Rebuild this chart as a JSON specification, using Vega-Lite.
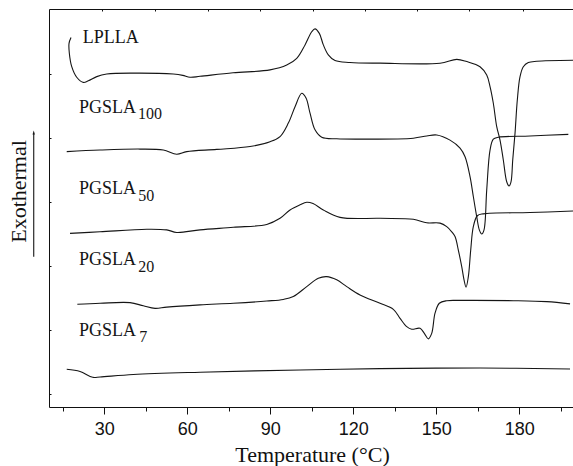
{
  "$schema": "https://vega.github.io/schema/vega-lite/v6.json",
  "width": 525,
  "height": 398,
  "autosize": {"type": "none"},
  "padding": {"left": 49, "top": 9, "right": 0, "bottom": 59},
  "background": "white",
  "config": {
    "view": {"stroke": "#111", "strokeWidth": 1},
    "axis": {"domain": false, "grid": false, "tickColor": "#111", "labelColor": "#111", "titleColor": "#111"}
  },
  "datasets": {
    "curves": [
      {"series": "LPLLA", "temp": 17.96, "signal": 12.13},
      {"series": "LPLLA", "temp": 17.24, "signal": 11.95},
      {"series": "LPLLA", "temp": 17.35, "signal": 11.64},
      {"series": "LPLLA", "temp": 18.22, "signal": 11.22},
      {"series": "LPLLA", "temp": 20.02, "signal": 10.89},
      {"series": "LPLLA", "temp": 22.41, "signal": 10.73},
      {"series": "LPLLA", "temp": 24.22, "signal": 10.78},
      {"series": "LPLLA", "temp": 27.25, "signal": 10.91},
      {"series": "LPLLA", "temp": 30.87, "signal": 10.99},
      {"series": "LPLLA", "temp": 40.48, "signal": 11.02},
      {"series": "LPLLA", "temp": 54.94, "signal": 10.99},
      {"series": "LPLLA", "temp": 58.34, "signal": 10.95},
      {"series": "LPLLA", "temp": 60.98, "signal": 10.89},
      {"series": "LPLLA", "temp": 64.59, "signal": 10.92},
      {"series": "LPLLA", "temp": 76.52, "signal": 11.03},
      {"series": "LPLLA", "temp": 89.89, "signal": 11.12},
      {"series": "LPLLA", "temp": 95.93, "signal": 11.27},
      {"series": "LPLLA", "temp": 99.54, "signal": 11.48},
      {"series": "LPLLA", "temp": 102.54, "signal": 11.9},
      {"series": "LPLLA", "temp": 104.96, "signal": 12.31},
      {"series": "LPLLA", "temp": 106.15, "signal": 12.4},
      {"series": "LPLLA", "temp": 107.71, "signal": 12.26},
      {"series": "LPLLA", "temp": 109.16, "signal": 11.9},
      {"series": "LPLLA", "temp": 110.96, "signal": 11.59},
      {"series": "LPLLA", "temp": 113.38, "signal": 11.41},
      {"series": "LPLLA", "temp": 118.8, "signal": 11.35},
      {"series": "LPLLA", "temp": 129.65, "signal": 11.33},
      {"series": "LPLLA", "temp": 151.34, "signal": 11.33},
      {"series": "LPLLA", "temp": 157.37, "signal": 11.45},
      {"series": "LPLLA", "temp": 160.99, "signal": 11.38},
      {"series": "LPLLA", "temp": 165.79, "signal": 11.22},
      {"series": "LPLLA", "temp": 168.21, "signal": 10.96},
      {"series": "LPLLA", "temp": 169.41, "signal": 10.6},
      {"series": "LPLLA", "temp": 170.6, "signal": 10.08},
      {"series": "LPLLA", "temp": 171.83, "signal": 9.35},
      {"series": "LPLLA", "temp": 173.02, "signal": 8.93},
      {"series": "LPLLA", "temp": 174.21, "signal": 8.31},
      {"series": "LPLLA", "temp": 175.44, "signal": 7.63},
      {"series": "LPLLA", "temp": 176.27, "signal": 7.5},
      {"series": "LPLLA", "temp": 176.99, "signal": 7.63},
      {"series": "LPLLA", "temp": 177.61, "signal": 8.31},
      {"series": "LPLLA", "temp": 178.44, "signal": 9.14},
      {"series": "LPLLA", "temp": 179.27, "signal": 10.18},
      {"series": "LPLLA", "temp": 180.25, "signal": 10.91},
      {"series": "LPLLA", "temp": 181.44, "signal": 11.22},
      {"series": "LPLLA", "temp": 183.25, "signal": 11.35},
      {"series": "LPLLA", "temp": 186.29, "signal": 11.39},
      {"series": "LPLLA", "temp": 199.76, "signal": 11.42},

      {"series": "PGSLA100", "temp": 16.41, "signal": 8.57},
      {"series": "PGSLA100", "temp": 28.45, "signal": 8.62},
      {"series": "PGSLA100", "temp": 42.9, "signal": 8.65},
      {"series": "PGSLA100", "temp": 51.32, "signal": 8.62},
      {"series": "PGSLA100", "temp": 56.17, "signal": 8.49},
      {"series": "PGSLA100", "temp": 59.78, "signal": 8.57},
      {"series": "PGSLA100", "temp": 70.63, "signal": 8.64},
      {"series": "PGSLA100", "temp": 82.66, "signal": 8.73},
      {"series": "PGSLA100", "temp": 89.89, "signal": 8.88},
      {"series": "PGSLA100", "temp": 93.51, "signal": 9.04},
      {"series": "PGSLA100", "temp": 96.51, "signal": 9.46},
      {"series": "PGSLA100", "temp": 98.93, "signal": 9.97},
      {"series": "PGSLA100", "temp": 101.35, "signal": 10.39},
      {"series": "PGSLA100", "temp": 102.9, "signal": 10.24},
      {"series": "PGSLA100", "temp": 104.35, "signal": 9.77},
      {"series": "PGSLA100", "temp": 106.15, "signal": 9.25},
      {"series": "PGSLA100", "temp": 108.58, "signal": 9.02},
      {"series": "PGSLA100", "temp": 114.0, "signal": 8.97},
      {"series": "PGSLA100", "temp": 123.61, "signal": 8.96},
      {"series": "PGSLA100", "temp": 141.69, "signal": 8.99},
      {"series": "PGSLA100", "temp": 146.53, "signal": 9.06},
      {"series": "PGSLA100", "temp": 150.14, "signal": 9.09},
      {"series": "PGSLA100", "temp": 154.95, "signal": 8.93},
      {"series": "PGSLA100", "temp": 158.57, "signal": 8.68},
      {"series": "PGSLA100", "temp": 160.38, "signal": 8.41},
      {"series": "PGSLA100", "temp": 162.18, "signal": 7.79},
      {"series": "PGSLA100", "temp": 163.37, "signal": 7.17},
      {"series": "PGSLA100", "temp": 164.6, "signal": 6.54},
      {"series": "PGSLA100", "temp": 165.54, "signal": 6.13},
      {"series": "PGSLA100", "temp": 166.41, "signal": 6.0},
      {"series": "PGSLA100", "temp": 167.24, "signal": 6.13},
      {"series": "PGSLA100", "temp": 168.21, "signal": 7.37},
      {"series": "PGSLA100", "temp": 169.41, "signal": 8.62},
      {"series": "PGSLA100", "temp": 170.6, "signal": 8.96},
      {"series": "PGSLA100", "temp": 172.41, "signal": 9.02},
      {"series": "PGSLA100", "temp": 183.86, "signal": 9.06},
      {"series": "PGSLA100", "temp": 197.71, "signal": 9.11},

      {"series": "PGSLA50", "temp": 17.6, "signal": 6.02},
      {"series": "PGSLA50", "temp": 28.45, "signal": 6.07},
      {"series": "PGSLA50", "temp": 45.33, "signal": 6.15},
      {"series": "PGSLA50", "temp": 52.55, "signal": 6.13},
      {"series": "PGSLA50", "temp": 56.17, "signal": 6.05},
      {"series": "PGSLA50", "temp": 64.59, "signal": 6.13},
      {"series": "PGSLA50", "temp": 76.63, "signal": 6.21},
      {"series": "PGSLA50", "temp": 88.7, "signal": 6.3},
      {"series": "PGSLA50", "temp": 93.51, "signal": 6.49},
      {"series": "PGSLA50", "temp": 97.12, "signal": 6.75},
      {"series": "PGSLA50", "temp": 100.73, "signal": 6.91},
      {"series": "PGSLA50", "temp": 103.15, "signal": 6.99},
      {"series": "PGSLA50", "temp": 105.43, "signal": 6.95},
      {"series": "PGSLA50", "temp": 109.16, "signal": 6.75},
      {"series": "PGSLA50", "temp": 115.19, "signal": 6.52},
      {"series": "PGSLA50", "temp": 129.65, "signal": 6.49},
      {"series": "PGSLA50", "temp": 141.69, "signal": 6.46},
      {"series": "PGSLA50", "temp": 146.53, "signal": 6.35},
      {"series": "PGSLA50", "temp": 151.34, "signal": 6.34},
      {"series": "PGSLA50", "temp": 153.76, "signal": 6.23},
      {"series": "PGSLA50", "temp": 155.57, "signal": 6.07},
      {"series": "PGSLA50", "temp": 156.76, "signal": 5.92},
      {"series": "PGSLA50", "temp": 157.95, "signal": 5.5},
      {"series": "PGSLA50", "temp": 159.18, "signal": 4.98},
      {"series": "PGSLA50", "temp": 160.01, "signal": 4.57},
      {"series": "PGSLA50", "temp": 160.74, "signal": 4.34},
      {"series": "PGSLA50", "temp": 161.57, "signal": 4.67},
      {"series": "PGSLA50", "temp": 162.43, "signal": 5.5},
      {"series": "PGSLA50", "temp": 163.37, "signal": 6.23},
      {"series": "PGSLA50", "temp": 164.82, "signal": 6.57},
      {"series": "PGSLA50", "temp": 166.98, "signal": 6.63},
      {"series": "PGSLA50", "temp": 183.86, "signal": 6.67},
      {"series": "PGSLA50", "temp": 199.76, "signal": 6.72},

      {"series": "PGSLA20", "temp": 20.24, "signal": 3.81},
      {"series": "PGSLA20", "temp": 28.45, "signal": 3.84},
      {"series": "PGSLA20", "temp": 39.29, "signal": 3.86},
      {"series": "PGSLA20", "temp": 44.1, "signal": 3.76},
      {"series": "PGSLA20", "temp": 48.33, "signal": 3.68},
      {"series": "PGSLA20", "temp": 52.55, "signal": 3.72},
      {"series": "PGSLA20", "temp": 64.59, "signal": 3.79},
      {"series": "PGSLA20", "temp": 76.63, "signal": 3.84},
      {"series": "PGSLA20", "temp": 88.7, "signal": 3.91},
      {"series": "PGSLA20", "temp": 94.7, "signal": 3.96},
      {"series": "PGSLA20", "temp": 98.31, "signal": 4.05},
      {"series": "PGSLA20", "temp": 103.15, "signal": 4.36},
      {"series": "PGSLA20", "temp": 107.35, "signal": 4.62},
      {"series": "PGSLA20", "temp": 110.38, "signal": 4.67},
      {"series": "PGSLA20", "temp": 114.0, "signal": 4.57},
      {"series": "PGSLA20", "temp": 117.61, "signal": 4.36},
      {"series": "PGSLA20", "temp": 122.42, "signal": 4.1},
      {"series": "PGSLA20", "temp": 129.65, "signal": 3.84},
      {"series": "PGSLA20", "temp": 134.46, "signal": 3.65},
      {"series": "PGSLA20", "temp": 136.88, "signal": 3.37},
      {"series": "PGSLA20", "temp": 139.3, "signal": 3.11},
      {"series": "PGSLA20", "temp": 141.11, "signal": 3.03},
      {"series": "PGSLA20", "temp": 144.1, "signal": 3.06},
      {"series": "PGSLA20", "temp": 145.66, "signal": 2.9},
      {"series": "PGSLA20", "temp": 147.1, "signal": 2.73},
      {"series": "PGSLA20", "temp": 148.33, "signal": 2.9},
      {"series": "PGSLA20", "temp": 149.53, "signal": 3.53},
      {"series": "PGSLA20", "temp": 151.08, "signal": 3.84},
      {"series": "PGSLA20", "temp": 153.76, "signal": 3.92},
      {"series": "PGSLA20", "temp": 158.57, "signal": 3.93},
      {"series": "PGSLA20", "temp": 177.84, "signal": 3.92},
      {"series": "PGSLA20", "temp": 189.91, "signal": 3.89},
      {"series": "PGSLA20", "temp": 198.33, "signal": 3.82},

      {"series": "PGSLA7", "temp": 16.41, "signal": 1.78},
      {"series": "PGSLA7", "temp": 21.22, "signal": 1.71},
      {"series": "PGSLA7", "temp": 25.81, "signal": 1.53},
      {"series": "PGSLA7", "temp": 28.45, "signal": 1.54},
      {"series": "PGSLA7", "temp": 40.48, "signal": 1.62},
      {"series": "PGSLA7", "temp": 64.59, "signal": 1.69},
      {"series": "PGSLA7", "temp": 100.73, "signal": 1.76},
      {"series": "PGSLA7", "temp": 129.65, "signal": 1.8},
      {"series": "PGSLA7", "temp": 165.79, "signal": 1.82},
      {"series": "PGSLA7", "temp": 198.33, "signal": 1.79}
    ],
    "names": [
      {"temp": 22.19, "signal": 11.95, "label": "LPLLA"},
      {"temp": 20.86, "signal": 9.77, "label": "PGSLA"},
      {"temp": 20.86, "signal": 7.24, "label": "PGSLA"},
      {"temp": 20.86, "signal": 5.03, "label": "PGSLA"},
      {"temp": 20.86, "signal": 2.83, "label": "PGSLA"}
    ],
    "subs": [
      {"temp": 42.18, "signal": 9.58, "label": "100"},
      {"temp": 42.29, "signal": 7.03, "label": "50"},
      {"temp": 42.29, "signal": 4.83, "label": "20"},
      {"temp": 42.6, "signal": 2.62, "label": "7"}
    ],
    "arrowShaft": [
      {"temp": 4.48, "signal": 5.29, "signal2": 9.12}
    ],
    "arrowHead": [
      {"temp": 4.48, "signal": 9.17}
    ]
  },
  "resolve": {"axis": {"x": "independent"}},
  "layer": [
    {
      "data": {"name": "curves"},
      "mark": {"type": "line", "interpolate": "catmull-rom", "color": "#151515", "strokeWidth": 1.1},
      "encoding": {
        "x": {
          "field": "temp", "type": "quantitative",
          "scale": {"domain": [10, 199.76], "nice": false, "zero": false},
          "axis": {
            "orient": "bottom", "values": [30, 60, 90, 120, 150, 180], "tickSize": 7,
            "labelFont": "Liberation Sans", "labelFontSize": 18, "labelPadding": 6,
            "title": "Temperature (°C)", "titleFont": "Liberation Serif", "titleFontSize": 22,
            "titleFontWeight": "normal", "titleBaseline": "alphabetic", "titleY": 54.7, "titleX": 263
          }
        },
        "y": {
          "field": "signal", "type": "quantitative",
          "scale": {"domain": [0.604, 13.02], "nice": false, "zero": false},
          "axis": {
            "values": [1, 2, 3, 4, 5, 6, 7, 8, 9, 10, 11, 12], "tickSize": -2, "labels": false,
            "title": "Exothermal", "titleFont": "Liberation Serif", "titleFontSize": 22,
            "titleFontWeight": "normal", "titleAngle": 270, "titleBaseline": "alphabetic",
            "titleAlign": "center", "titleX": -24, "titleY": 182
          }
        },
        "detail": {"field": "series"},
        "order": {"value": null}
      }
    },
    {
      "data": {"name": "names"},
      "mark": {"type": "text", "align": "left", "baseline": "alphabetic", "font": "Liberation Serif", "fontSize": 18, "color": "#151515"},
      "encoding": {
        "x": {
          "field": "temp", "type": "quantitative",
          "axis": {"orient": "bottom", "values": [15, 45, 75, 105, 135, 165, 195], "tickSize": 4, "labels": false, "title": null}
        },
        "y": {"field": "signal", "type": "quantitative"},
        "text": {"field": "label"}
      }
    },
    {
      "data": {"name": "subs"},
      "mark": {"type": "text", "align": "left", "baseline": "alphabetic", "font": "Liberation Serif", "fontSize": 16, "color": "#151515"},
      "encoding": {
        "x": {
          "field": "temp", "type": "quantitative",
          "axis": {"orient": "top", "values": [29.3, 48.4, 67.4, 86.3, 105.3, 124.2, 143.1, 161.9, 181.2], "tickSize": -2, "labels": false, "title": null}
        },
        "y": {"field": "signal", "type": "quantitative"},
        "text": {"field": "label"}
      }
    },
    {
      "data": {"name": "arrowShaft"},
      "mark": {"type": "rule", "clip": false, "color": "#151515", "strokeWidth": 1.1},
      "encoding": {
        "x": {"field": "temp", "type": "quantitative", "axis": null},
        "y": {"field": "signal", "type": "quantitative"},
        "y2": {"field": "signal2"}
      }
    },
    {
      "data": {"name": "arrowHead"},
      "mark": {"type": "point", "clip": false, "filled": true, "opacity": 1, "color": "#151515", "size": 64, "shape": "M -0.3 0.5 L 0 -0.5 L 0.3 0.5 Z"},
      "encoding": {
        "x": {"field": "temp", "type": "quantitative", "axis": null},
        "y": {"field": "signal", "type": "quantitative"}
      }
    }
  ]
}
